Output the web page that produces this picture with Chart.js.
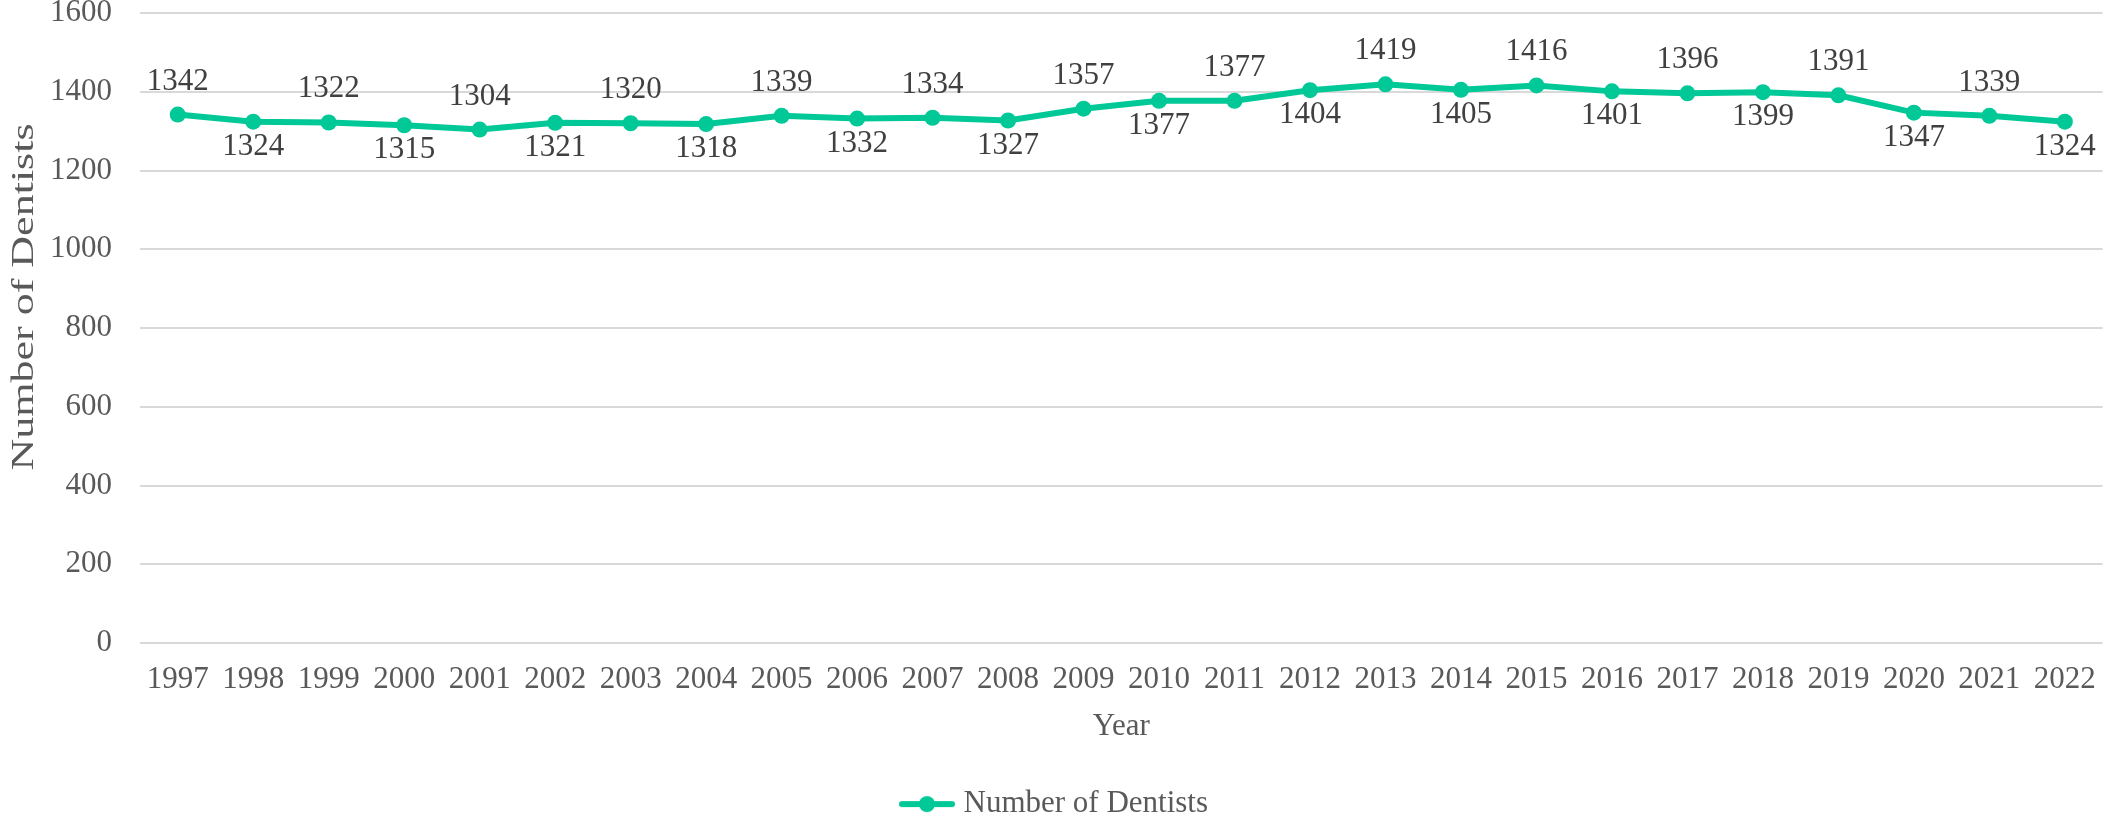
<!DOCTYPE html>
<html>
<head>
<meta charset="utf-8">
<script src="https://cdn.jsdelivr.net/npm/chart.js@4"></script>
<style>
  html, body { margin: 0; padding: 0; background: #fff; overflow: hidden; }
  #wrap { width: 2114px; height: 821px; position: relative; }
</style>
</head>
<body>
<div id="wrap"><canvas id="graficoDentistas"></canvas></div>
<script>
document.addEventListener('DOMContentLoaded', () => {

	// DATOS

	const years = [
	  '1997', '1998', '1999', '2000', '2001', '2002', '2003', '2004', '2005',
	  '2006', '2007', '2008', '2009', '2010', '2011', '2012', '2013', '2014',
	  '2015', '2016', '2017', '2018', '2019', '2020', '2021', '2022',
	];
	const dentists = [
	  1342, 1324, 1322, 1315, 1304, 1321, 1320, 1318, 1339,
	  1332, 1334, 1327, 1357, 1377, 1377, 1404, 1419, 1405,
	  1416, 1401, 1396, 1399, 1391, 1347, 1339, 1324,
	];
	const yTicks = [0, 200, 400, 600, 800, 1000, 1200, 1400, 1600];
	const seriesName = 'Number of Dentists';
	const xTitle = 'Year';
	const yTitle = 'Number of Dentists';

	const verde = 'rgb(0, 200, 150)';
	const serif = '"Liberation Serif", "Times New Roman", serif';

	// marcador de la leyenda: linea con punto
	const marca = document.createElement('canvas');
	marca.width = 56;
	marca.height = 18;
	const mc = marca.getContext('2d');
	mc.strokeStyle = verde;
	mc.lineWidth = 6;
	mc.lineCap = 'round';
	mc.beginPath();
	mc.moveTo(3, 9);
	mc.lineTo(53, 9);
	mc.stroke();
	mc.fillStyle = verde;
	mc.beginPath();
	mc.arc(28, 9, 8, 0, Math.PI * 2);
	mc.fill();

	// etiquetas de datos, alternando arriba / abajo
	const etiquetas = {
	  id: 'etiquetas',
	  afterDatasetsDraw(chart) {
	    const ctx = chart.ctx;
	    const meta = chart.getDatasetMeta(0);
	    ctx.save();
	    ctx.font = '31px ' + serif;
	    ctx.fillStyle = '#404040';
	    ctx.textAlign = 'center';
	    ctx.textBaseline = 'alphabetic';
	    meta.data.forEach((pt, i) => {
	      const dy = (i % 2 === 0) ? -25 : 33;
	      ctx.fillText(String(dentists[i]), pt.x, pt.y + dy);
	    });
	    ctx.restore();
	  }
	};

	// titulo del eje Y (estirado como en el original)
	const tituloY = {
	  id: 'tituloY',
	  afterDraw(chart) {
	    const ctx = chart.ctx;
	    ctx.save();
	    ctx.translate(33, 297);
	    ctx.rotate(-Math.PI / 2);
	    ctx.scale(1.42, 1);
	    ctx.font = '31px ' + serif;
	    ctx.fillStyle = '#595959';
	    ctx.textAlign = 'center';
	    ctx.textBaseline = 'alphabetic';
	    ctx.fillText(yTitle, 0, 0);
	    ctx.restore();
	  }
	};

	const data = {
	  labels: years,
	  datasets: [{
	    label: seriesName,
	    data: dentists,
	    borderColor: verde,
	    backgroundColor: verde,
	    borderWidth: 6,
	    pointRadius: 8,
	    pointBorderWidth: 0,
	    pointBackgroundColor: verde,
	    tension: 0,
	  }]
	};

	const config = {
	  type: 'line',
	  data: data,
	  options: {
	    responsive: true,
	    maintainAspectRatio: false,
	    animation: false,
	    layout: {
	      padding: { left: 0, right: 0, top: 0, bottom: -8.6 }
	    },
	    plugins: {
	      legend: {
	        position: 'bottom',
	        labels: {
	          usePointStyle: true,
	          pointStyle: marca,
	          pointStyleWidth: 42,
	          padding: 39,
	          color: '#595959',
	          font: { family: serif, size: 31 }
	        }
	      },
	      tooltip: { enabled: false }
	    },
	    scales: {
	      x: {
	        offset: true,
	        afterFit(scale) { scale.height = 106.6; },
	        grid: { display: false, drawTicks: false, tickLength: 0 },
	        border: { display: false },
	        ticks: {
	          padding: 18,
	          color: '#595959',
	          maxRotation: 0,
	          autoSkip: false,
	          font: { family: serif, size: 31, lineHeight: 1.2 }
	        },
	        title: {
	          display: true,
	          text: xTitle,
	          color: '#595959',
	          padding: { top: 10, bottom: 4 },
	          font: { family: serif, size: 31, lineHeight: 1.2 }
	        }
	      },
	      y: {
	        min: yTicks[0],
	        max: yTicks[yTicks.length - 1],
	        afterFit(scale) { scale.width = 140; },
	        afterBuildTicks(scale) { scale.ticks = yTicks.map(v => ({ value: v })); },
	        grid: {
	          color: '#d9d9d9',
	          lineWidth: 2,
	          drawTicks: true,
	          tickLength: 28,
	          tickColor: 'rgba(0,0,0,0)'
	        },
	        border: { display: false },
	        ticks: {
	          padding: 0,
	          color: '#595959',
	          callback: (v) => String(v),
	          font: { family: serif, size: 31, lineHeight: 0.84 }
	        }
	      }
	    }
	  },
	  plugins: [etiquetas, tituloY]
	};

	var graficoDentistas = new Chart(
		document.getElementById('graficoDentistas'),
		config
	);

});
</script>
</body>
</html>
